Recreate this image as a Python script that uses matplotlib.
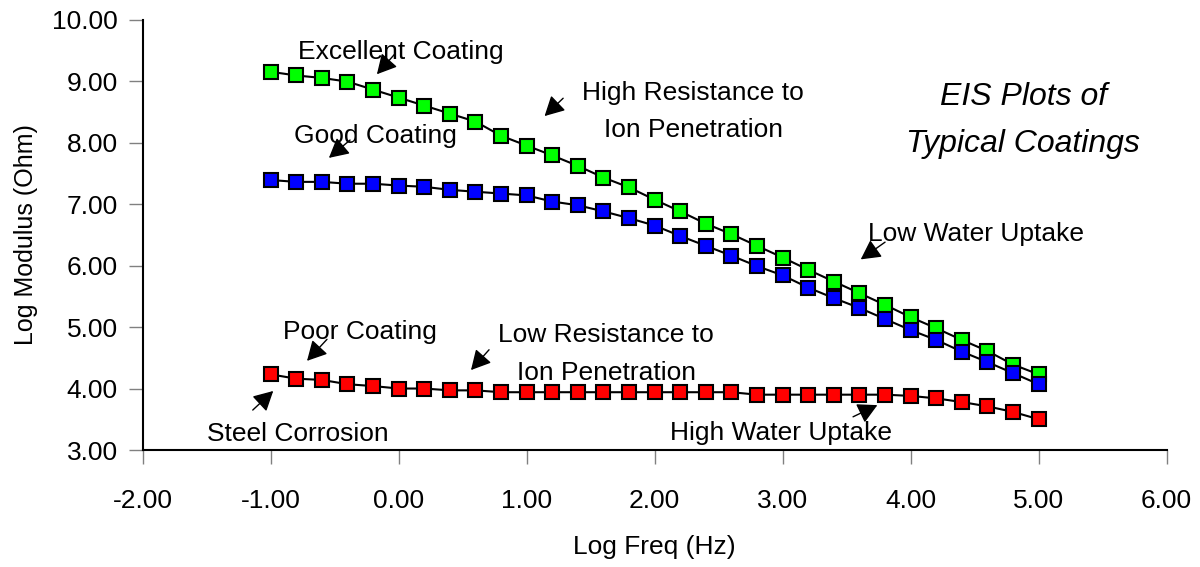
import numpy as np
import matplotlib
matplotlib.use("Agg")
import matplotlib.pyplot as plt

plt.rcParams['font.family'] = ['Liberation Sans', 'DejaVu Sans']

# log frequency points (Hz)
log_freq = [-1.0, -0.8, -0.6, -0.4, -0.2, 0.0, 0.2, 0.4, 0.6, 0.8,
            1.0, 1.2, 1.4, 1.6, 1.8, 2.0, 2.2, 2.4, 2.6, 2.8,
            3.0, 3.2, 3.4, 3.6, 3.8, 4.0, 4.2, 4.4, 4.6, 4.8, 5.0]

excellent = [9.15, 9.09, 9.05, 8.99, 8.86, 8.73, 8.60, 8.47, 8.34, 8.11,
             7.95, 7.79, 7.62, 7.43, 7.27, 7.07, 6.88, 6.68, 6.51, 6.32,
             6.13, 5.93, 5.74, 5.55, 5.36, 5.16, 4.98, 4.79, 4.61, 4.39, 4.23]

good = [7.39, 7.36, 7.36, 7.33, 7.33, 7.30, 7.28, 7.23, 7.20, 7.17,
        7.14, 7.04, 6.98, 6.88, 6.77, 6.65, 6.48, 6.32, 6.16, 5.99,
        5.84, 5.64, 5.47, 5.31, 5.13, 4.95, 4.79, 4.60, 4.43, 4.25, 4.07]

poor = [4.23, 4.16, 4.14, 4.07, 4.04, 4.00, 4.00, 3.97, 3.97, 3.94,
        3.94, 3.94, 3.94, 3.94, 3.94, 3.94, 3.94, 3.94, 3.94, 3.90,
        3.90, 3.90, 3.90, 3.90, 3.90, 3.88, 3.84, 3.78, 3.71, 3.62, 3.50]

x_ticks = [-2, -1, 0, 1, 2, 3, 4, 5, 6]
y_ticks = [3, 4, 5, 6, 7, 8, 9, 10]

fig = plt.figure(figsize=(12, 5.67), dpi=100)
ax = fig.add_axes([0.1189, 0.2063, 0.8533, 0.7593])

for vals, col in [(excellent, '#00FF00'), (good, '#0000FF'), (poor, '#FF0000')]:
    ax.plot(log_freq, vals, color='black', lw=1.5, marker='s', markersize=9.5,
            markerfacecolor=col, markeredgecolor='black', markeredgewidth=1.5)

ax.set_xlim(-2, 6)
ax.set_ylim(3, 10)
ax.set_xticks(x_ticks)
ax.set_yticks(y_ticks)
ax.set_xticklabels(['%.2f' % v for v in x_ticks])
ax.set_yticklabels(['%.2f' % v for v in y_ticks])
ax.tick_params(axis='both', direction='out', length=10, width=1, color='#808080', labelsize=19)
ax.tick_params(axis='x', pad=18)
ax.tick_params(axis='y', pad=8)
ax.spines['top'].set_visible(False)
ax.spines['right'].set_visible(False)
ax.spines['left'].set_linewidth(1.5)
ax.spines['bottom'].set_linewidth(1.5)

ax.set_xlabel('Log Freq (Hz)', fontsize=19, labelpad=16)
ax.set_ylabel('Log Modulus (Ohm)', fontsize=18, labelpad=10)

arrow = dict(arrowstyle='-|>,head_length=0.6,head_width=0.32', color='black',
             lw=1, mutation_scale=20, shrinkA=0, shrinkB=0)
fs = 19

def label(txt, x, y):
    ax.text(x, y, txt, fontsize=fs, ha='center', va='baseline')

label('Excellent Coating', 0.02, 9.36)
ax.annotate('', xy=(-0.17, 9.11), xytext=(-0.03, 9.44), arrowprops=arrow)

label('High Resistance to', 2.30, 8.69)
label('Ion Penetration', 2.30, 8.09)
ax.annotate('', xy=(1.14, 8.43), xytext=(1.285, 8.72), arrowprops=arrow)

label('Good Coating', -0.18, 7.99)
ax.annotate('', xy=(-0.545, 7.75), xytext=(-0.38, 8.04), arrowprops=arrow)

ax.text(4.88, 8.61, 'EIS Plots of', fontsize=23, style='italic', ha='center', va='baseline')
ax.text(4.88, 7.85, 'Typical Coatings', fontsize=23, style='italic', ha='center', va='baseline')

label('Low Water Uptake', 4.51, 6.40)
ax.annotate('', xy=(3.61, 6.10), xytext=(3.80, 6.38), arrowprops=arrow)

label('Poor Coating', -0.30, 4.80)
ax.annotate('', xy=(-0.716, 4.45), xytext=(-0.56, 4.80), arrowprops=arrow)

label('Low Resistance to', 1.62, 4.76)
label('Ion Penetration', 1.62, 4.14)
ax.annotate('', xy=(0.565, 4.30), xytext=(0.706, 4.63), arrowprops=arrow)

label('Steel Corrosion', -0.79, 3.15)
ax.annotate('', xy=(-0.98, 3.96), xytext=(-1.14, 3.65), arrowprops=arrow)

label('High Water Uptake', 2.99, 3.16)
ax.annotate('', xy=(3.74, 3.73), xytext=(3.55, 3.54), arrowprops=arrow)

fig.savefig('out.png', dpi=100)
